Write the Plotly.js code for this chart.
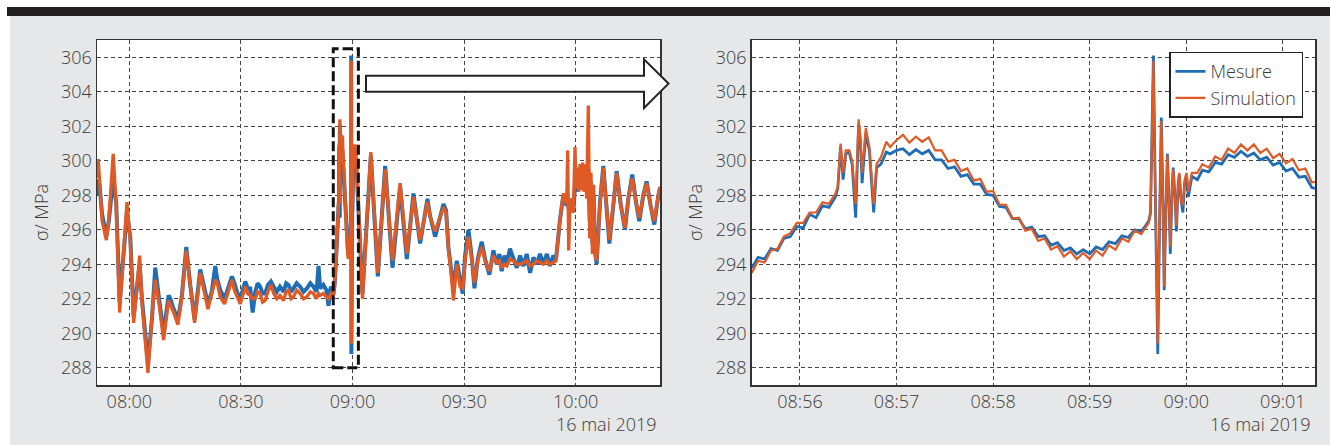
<!DOCTYPE html>
<html>
<head>
<meta charset="utf-8">
<script src="https://cdn.plot.ly/plotly-3.0.1.min.js"></script>
<style>
html,body{margin:0;padding:0;background:#fff;}
#chart{width:1330px;height:445px;}
</style>
</head>
<body>
<div id="chart"></div>
<script>
// ---------- DATA ----------
const dateLabel = '16 mai 2019';
const day = '2019-05-16 ';
const seriesNames = ['Mesure', 'Simulation'];
const yTicks = [288, 290, 292, 294, 296, 298, 300, 302, 304, 306];

// Overview (left chart) – outside the zoom window
const overviewTime = [
 '07:51:19','07:51:38','07:52:00','07:52:41','07:53:49','07:54:30','07:55:40','07:56:30','07:57:24','07:58:18',
 '07:59:22','08:00:16','08:01:10','08:02:04','08:02:47','08:03:24','08:05:01','08:06:05','08:06:59','08:07:53',
 '08:09:13','08:10:34','08:11:01','08:11:55','08:13:04','08:14:09','08:15:19','08:16:23','08:17:33','08:19:04',
 '08:19:58','08:21:08','08:22:10','08:23:06','08:23:40','08:24:27','08:25:37','08:26:40','08:27:35','08:28:15',
 '08:28:56','08:29:49','08:30:30','08:31:10','08:31:50','08:32:31','08:33:10','08:33:51','08:34:30','08:35:11',
 '08:35:50','08:36:32','08:37:15','08:38:04','08:38:50','08:39:40','08:40:30','08:41:28','08:42:10','08:42:49',
 '08:43:30','08:44:09','08:45:00','08:45:56','08:46:50','08:47:44','08:48:40','08:49:31','08:50:20','08:50:52',
 '08:51:19','08:52:10','08:53:00','08:53:33','08:54:10','08:54:40','08:55:04','08:55:15',
 '09:02:41','09:04:56','09:06:49','09:08:47','09:10:45','09:12:48','09:14:36','09:16:23','09:18:11','09:20:09',
 '09:20:52','09:22:13','09:24:27','09:25:10','09:25:47','09:26:25','09:27:08','09:28:02','09:28:56','09:29:38',
 '09:30:16','09:31:10','09:32:04','09:32:47','09:33:40','09:34:45','09:35:38','09:36:48','09:37:53','09:38:47',
 '09:39:30','09:40:07','09:40:50','09:41:28','09:42:20','09:43:15','09:44:10','09:45:03','09:46:00','09:46:50',
 '09:47:45','09:48:38','09:49:30','09:50:25','09:51:20','09:52:15','09:53:06','09:54:00','09:54:43','09:55:47',
 '09:56:41','09:57:35','09:57:51','09:58:07','09:58:29','09:58:55','09:59:22','09:59:49','10:00:05','10:00:27',
 '10:00:48','10:01:10','10:01:31','10:01:53','10:02:14','10:02:36','10:02:57','10:03:24','10:03:46','10:04:07',
 '10:04:29','10:04:50','10:05:12','10:05:38','10:06:32','10:07:26','10:08:20','10:09:03','10:10:07','10:11:01',
 '10:12:05','10:13:15','10:14:09','10:15:13','10:16:13','10:17:06','10:18:11','10:19:04','10:20:09','10:21:08',
 '10:22:13','10:22:40'
];
const overviewMesure = [
 298.0,298.9,298.6,296.9,295.6,296.5,299.0,297.5,291.8,294.3,
 297.0,295.6,291.0,292.7,294.0,292.0,288.3,290.8,293.8,292.2,
 290.0,292.2,292.0,291.4,290.8,292.2,295.0,292.8,290.8,293.7,
 292.7,291.7,292.4,293.9,293.1,292.5,292.0,292.8,293.3,292.9,
 292.4,292.0,292.6,293.0,292.6,292.6,291.2,292.4,292.9,292.7,
 292.3,292.3,292.8,293.0,292.7,292.4,292.7,292.4,292.9,292.8,
 292.4,292.6,292.9,292.7,292.4,292.6,292.9,292.7,292.4,293.9,
 292.6,292.8,292.5,291.6,292.7,292.5,292.6,293.0,
 292.3,300.3,293.3,299.7,293.8,298.5,294.3,298.1,295.2,297.8,
 296.8,295.6,297.5,297.1,295.0,293.9,292.6,294.2,293.0,292.3,
 294.5,296.0,294.4,292.6,294.3,295.3,294.3,293.4,294.8,294.0,
 294.6,293.6,294.5,294.0,294.9,294.3,293.8,294.5,293.9,294.6,
 293.5,294.4,294.0,294.6,294.0,294.6,293.9,294.5,294.3,296.6,
 298.0,297.4,297.6,297.2,297.4,297.8,297.0,298.6,298.2,299.0,
 298.5,299.0,298.6,299.1,298.6,299.2,298.3,299.5,296.5,298.8,
 295.2,298.0,294.8,294.0,297.6,299.7,297.4,295.2,297.4,299.4,
 297.5,296.0,297.8,299.2,297.6,296.5,298.0,298.8,297.4,296.3,
 298.0,298.4
];
const overviewSimulation = [
 299.0,300.1,298.9,296.5,295.4,296.6,300.4,297.3,291.2,294.4,
 297.6,295.4,290.6,292.7,294.5,291.8,287.7,291.0,293.1,291.9,
 289.6,291.9,291.7,291.2,290.5,292.1,294.8,292.7,290.6,293.5,
 292.5,291.4,292.3,293.1,292.9,292.1,291.7,292.5,293.1,292.5,
 292.1,291.7,292.2,292.7,292.3,292.2,292.0,292.0,292.4,292.3,
 291.8,291.9,292.4,292.8,292.3,292.0,292.2,291.9,292.4,292.5,
 292.0,292.1,292.5,292.3,292.0,292.1,292.4,292.3,292.0,292.3,
 292.2,292.3,292.1,292.0,292.3,292.2,292.3,292.8,
 292.0,300.5,293.5,299.5,294.2,298.7,294.6,297.9,295.4,297.6,
 296.75,295.9,297.3,297.0,294.9,293.7,291.9,294.0,292.7,292.6,
 294.2,295.6,294.3,292.9,294.2,295.0,294.2,293.6,294.5,294.1,
 294.2,293.8,294.0,293.9,294.3,294.2,294.0,294.0,294.1,294.2,
 293.9,294.0,294.2,294.1,294.0,294.2,294.0,294.1,294.2,296.6,
 298.1,297.5,300.6,294.8,297.5,297.8,297.0,300.8,298.4,299.6,
 298.2,299.8,298.3,299.9,298.2,299.8,297.8,303.2,295.5,299.3,
 294.6,298.6,294.5,294.2,297.5,299.6,297.5,295.4,297.5,299.3,
 297.5,296.1,297.8,299.0,297.6,296.7,298.0,298.7,297.4,296.5,
 298.0,298.5
];

// Zoom window (right chart, also part of the left chart)
const zoomTime = [
 '08:55:30','08:55:34','08:55:38','08:55:42','08:55:46','08:55:50','08:55:54','08:55:58','08:56:02','08:56:06',
 '08:56:10','08:56:14','08:56:18','08:56:22','08:56:23.5','08:56:25.2','08:56:26.8','08:56:28.4','08:56:30.6','08:56:32.4',
 '08:56:34.6','08:56:36.4','08:56:37.5','08:56:38.6','08:56:40.9','08:56:43.1','08:56:45.8','08:56:47.6','08:56:50.3','08:56:53.6',
 '08:56:56','08:57:00','08:57:04','08:57:08','08:57:12','08:57:16','08:57:20','08:57:24','08:57:28','08:57:32',
 '08:57:36','08:57:40','08:57:44','08:57:48','08:57:52','08:57:56','08:58:00','08:58:04','08:58:08','08:58:12',
 '08:58:16','08:58:20','08:58:24','08:58:28','08:58:32','08:58:36','08:58:40','08:58:44','08:58:48','08:58:52',
 '08:58:56','08:59:00','08:59:04','08:59:08','08:59:12','08:59:16','08:59:20','08:59:24','08:59:28','08:59:32',
 '08:59:34.5','08:59:36.7','08:59:37.8','08:59:39.6','08:59:40.9','08:59:42.3','08:59:43.4','08:59:44.5','08:59:45.6','08:59:46.3',
 '08:59:47.4','08:59:48.3','08:59:49.4','08:59:50.1','08:59:51.2','08:59:51.9','08:59:53.0','08:59:53.9','08:59:55.0','08:59:55.7',
 '08:59:56.8','08:59:57.9','08:59:59.0','09:00:00.2','09:00:01.3','09:00:03.5','09:00:06.9','09:00:10','09:00:14','09:00:18',
 '09:00:22','09:00:26','09:00:30','09:00:34','09:00:38','09:00:42','09:00:46','09:00:50','09:00:54','09:00:58',
 '09:01:02','09:01:06','09:01:10','09:01:14','09:01:18','09:01:20'
];
const zoomMesure = [
 293.8,294.4,294.3,294.9,294.8,295.5,295.6,296.2,296.1,296.9,
 296.7,297.4,297.3,297.9,298.4,300.8,298.9,300.4,300.5,299.8,
 296.7,302.1,301.2,298.7,301.6,300.6,297.0,299.6,299.8,300.5,
 300.4,300.6,300.7,300.35,300.65,300.4,300.6,300.05,300.05,299.55,
 299.65,299.1,299.2,298.65,298.65,298.05,298.0,297.35,297.3,296.65,
 296.65,296.05,296.15,295.6,295.65,295.1,295.25,294.8,294.95,294.6,
 294.85,294.6,295.0,294.85,295.3,295.2,295.65,295.55,296.0,295.9,
 296.2,296.5,297.0,306.1,297.3,288.8,296.2,302.5,297.3,292.5,
 297.3,300.4,297.3,294.6,298.3,299.6,297.9,295.9,298.7,299.2,
 297.7,297.0,298.7,299.1,297.9,299.1,298.9,299.45,299.35,299.9,
 299.8,300.35,300.2,300.55,300.25,300.45,300.05,300.2,299.75,299.9,
 299.4,299.55,299.05,299.1,298.45,298.4
];
const zoomSimulation = [
 293.5,294.2,294.1,294.8,294.9,295.6,295.8,296.4,296.4,297.0,
 297.0,297.6,297.5,298.1,298.5,301.0,299.3,300.6,300.6,300.0,
 297.5,302.4,301.4,299.3,301.9,300.8,297.5,299.8,300.2,301.1,
 300.8,301.2,301.5,301.05,301.4,301.1,301.35,300.6,300.6,299.95,
 300.05,299.4,299.55,298.85,298.95,298.2,298.25,297.45,297.45,296.65,
 296.7,295.95,296.05,295.35,295.5,294.85,295.05,294.45,294.75,294.3,
 294.65,294.3,294.8,294.5,295.1,294.85,295.5,295.3,295.95,295.75,
 296.1,296.4,296.9,305.8,297.3,289.4,296.2,302.3,297.3,292.7,
 297.3,300.3,297.3,295.0,298.3,299.5,297.9,296.2,298.7,299.3,
 297.7,297.4,298.9,299.3,298.2,299.3,299.3,299.8,299.6,300.25,
 300.05,300.7,300.45,300.95,300.6,300.95,300.45,300.7,300.15,300.4,
 299.85,300.1,299.45,299.55,298.75,298.77
];

// ---------- BUILD ----------
const BLUE = '#1f6db4';
const ORANGE = '#e05a25';
const W = 1330, H = 445;
const px = v => v / W;
const py = v => 1 - v / H;

// merge overview + zoom for the left chart (ordered by time)
const merged = overviewTime.map((t, i) => ({t, m: overviewMesure[i], s: overviewSimulation[i]}))
  .concat(zoomTime.map((t, i) => ({t, m: zoomMesure[i], s: zoomSimulation[i]})))
  .sort((a, b) => a.t < b.t ? -1 : a.t > b.t ? 1 : 0);
const leftX = merged.map(d => day + d.t);
const rightX = zoomTime.map(t => day + t);

const traces = [
  {x: leftX, y: merged.map(d => d.m), xaxis: 'x', yaxis: 'y', mode: 'lines', name: seriesNames[0],
   line: {color: BLUE, width: 4}, showlegend: false},
  {x: leftX, y: merged.map(d => d.s), xaxis: 'x', yaxis: 'y', mode: 'lines', name: seriesNames[1],
   line: {color: ORANGE, width: 3.3}, showlegend: false},
  {x: rightX, y: zoomMesure, xaxis: 'x2', yaxis: 'y2', mode: 'lines', name: seriesNames[0],
   line: {color: BLUE, width: 2.8}},
  {x: rightX, y: zoomSimulation, xaxis: 'x2', yaxis: 'y2', mode: 'lines', name: seriesNames[1],
   line: {color: ORANGE, width: 2.2}}
];

const FONT = {family: '"Open Sans", sans-serif', size: 18, color: '#3a3a3a', weight: 300};
const gridCol = '#444';
function xAx(domain, range, dtick, tick0, anchor) {
  return {domain, range, type: 'date', dtick, tick0, tickformat: '%H:%M',
    showgrid: true, gridcolor: gridCol, gridwidth: 1, griddash: '4px,3px',
    showline: true, linecolor: '#333', linewidth: 1.5, mirror: true, ticks: '',
    zeroline: false, tickfont: FONT, anchor, fixedrange: true};
}
function yAx(domain, anchor) {
  return {domain, range: [287, 307], tickvals: yTicks, ticktext: yTicks.map(String),
    showgrid: true, gridcolor: gridCol, gridwidth: 1, griddash: '4px,3px',
    showline: true, linecolor: '#333', linewidth: 1.5, mirror: true, ticks: '',
    zeroline: false, tickfont: FONT, anchor,
    title: {text: 'σ/ MPa', font: FONT, standoff: 8}, fixedrange: true};
}

const yDom = [py(385), py(40)];
const arrow = [[366,75.7],[644,75.7],[644,59.3],[668.5,83.6],[644,108],[644,91.7],[366,91.7]];
const arrowPath = 'M ' + arrow.map(p => px(p[0]) + ',' + py(p[1])).join(' L ') + ' Z';

const layout = {
  width: W, height: H,
  margin: {l: 0, r: 0, t: 0, b: 0},
  paper_bgcolor: '#e6e7e8', plot_bgcolor: '#ffffff',
  font: FONT,
  xaxis: xAx([px(97), px(660)], [day + '07:51:19', day + '10:22:40'], 30 * 60 * 1000, day + '08:00:00', 'y'),
  yaxis: yAx(yDom, 'x'),
  xaxis2: xAx([px(751.7), px(1315)], [day + '08:55:30', day + '09:01:20'], 60 * 1000, day + '08:56:00', 'y2'),
  yaxis2: yAx(yDom, 'x2'),
  showlegend: true,
  legend: {x: px(1303), y: py(51.7), xanchor: 'right', yanchor: 'top', bgcolor: '#ffffff',
    bordercolor: '#222', borderwidth: 1.5, font: FONT, itemwidth: 30, tracegroupgap: 0},
  shapes: [
    {type: 'rect', xref: 'paper', yref: 'paper', x0: 0, x1: px(10), y0: 0, y1: 1, fillcolor: '#fff', line: {width: 0}, layer: 'below'},
    {type: 'rect', xref: 'paper', yref: 'paper', x0: 0, x1: 1, y0: py(7), y1: 1, fillcolor: '#fff', line: {width: 0}, layer: 'below'},
    {type: 'rect', xref: 'paper', yref: 'paper', x0: px(7), x1: 1, y0: py(16), y1: py(7), fillcolor: '#231f20', line: {width: 0}, layer: 'below'},
    {type: 'rect', xref: 'x', yref: 'y', x0: day + '08:54:50', x1: day + '09:01:35', y0: 288, y1: 306.5,
     line: {color: '#111', width: 3, dash: '10px,4px'}, fillcolor: 'rgba(0,0,0,0)', layer: 'above'},
    {type: 'path', xref: 'paper', yref: 'paper', path: arrowPath, fillcolor: '#ffffff',
     line: {color: '#222', width: 2}, layer: 'above'}
  ],
  annotations: [
    {xref: 'paper', yref: 'paper', x: px(659), y: py(424), xanchor: 'right', yanchor: 'middle',
     text: dateLabel, showarrow: false, font: FONT},
    {xref: 'paper', yref: 'paper', x: px(1313), y: py(424), xanchor: 'right', yanchor: 'middle',
     text: dateLabel, showarrow: false, font: FONT}
  ]
};

Plotly.newPlot('chart', traces, layout, {displayModeBar: false, staticPlot: true});
</script>
</body>
</html>
